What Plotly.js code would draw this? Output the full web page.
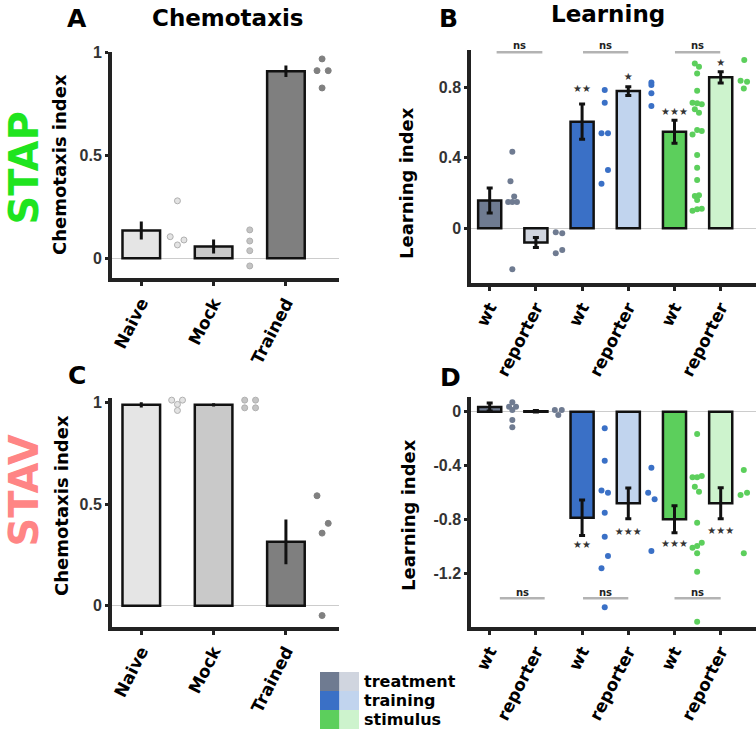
<!DOCTYPE html>
<html>
<head>
<meta charset="utf-8">
<script src="https://cdn.plot.ly/plotly-3.0.1.min.js"></script>
<style>
html,body{margin:0;padding:0;background:#fff;}
#chart{width:756px;height:729px;}
</style>
</head>
<body>
<div id="chart"></div>
<script>
// ---------------- DATA ----------------
const chemoCats = ['Naive', 'Mock', 'Trained'];
const learnCats = ['wt', 'reporter', 'wt', 'reporter', 'wt', 'reporter'];
const legendRows = ['treatment', 'training', 'stimulus'];

// Panel A (STAP chemotaxis)
const stapChemoMean = [0.135, 0.057, 0.908];
const stapChemoErr = [0.044, 0.034, 0.028];
const stapChemoDots = [[0.279, 0.105, 0.089, 0.065], [0.138, 0.084, 0.037, -0.037], [0.968, 0.911, 0.911, 0.827]];
const stapChemoDotsOffset = [[0.50, 0.40, 0.59, 0.50], [0.50, 0.50, 0.50, 0.50], [0.50, 0.43, 0.585, 0.50]];

// Panel C (STAV chemotaxis)
const stavChemoMean = [0.99, 0.99, 0.315];
const stavChemoErr = [0.013, 0.008, 0.11];
const stavChemoDots = [[1.013, 1.013, 0.992, 0.962], [1.013, 1.013, 0.975, 0.975], [0.542, 0.406, 0.358, -0.048]];
const stavChemoDotsOffset = [[0.42, 0.57, 0.50, 0.50], [0.43, 0.58, 0.43, 0.58], [0.43, 0.585, 0.50, 0.50]];

// Panel B (STAP learning)
const stapLearnMean = [0.157, -0.081, 0.605, 0.779, 0.548, 0.857];
const stapLearnErr = [0.071, 0.028, 0.10, 0.025, 0.065, 0.032];
const stapLearnDots = [
  [0.435, 0.267, 0.180, 0.149, 0.149, 0.149, -0.233],
  [-0.023, -0.028, -0.123, -0.142],
  [0.785, 0.713, 0.539, 0.539, 0.331, 0.253],
  [0.828, 0.813, 0.766, 0.694],
  [0.936, 0.917, 0.879, 0.781, 0.713, 0.709, 0.704, 0.675, 0.656, 0.558, 0.552, 0.533, 0.416, 0.344, 0.274, 0.183, 0.187, 0.161, 0.100, 0.108, 0.111],
  [0.955, 0.838, 0.832, 0.794]
];
const stapLearnDotsOffset = [
  [0.49, 0.45, 0.53, 0.40, 0.49, 0.59, 0.49],
  [0.43, 0.57, 0.57, 0.43],
  [0.49, 0.49, 0.42, 0.56, 0.56, 0.42],
  [0.50, 0.50, 0.50, 0.50],
  [0.44, 0.53, 0.49, 0.49, 0.39, 0.49, 0.59, 0.44, 0.53, 0.49, 0.59, 0.39, 0.49, 0.49, 0.49, 0.44, 0.53, 0.49, 0.39, 0.49, 0.59],
  [0.51, 0.43, 0.57, 0.50]
];
const stapStars = ['', '', '★★', '★', '★★★', '★'];
const stapStarsY = [null, null, 0.785, 0.857, 0.658, 0.936];
const stapNsFrom = [0.15, 2.02, 4.01];
const stapNsTo = [1.14, 3.0, 4.99];
const stapNsY = 0.999;
const stapNsTextY = 1.038;

// Panel D (STAV learning)
const stavLearnMean = [0.035, 0.003, -0.787, -0.680, -0.799, -0.680];
const stavLearnErr = [0.03, 0.005, 0.132, 0.114, 0.10, 0.115];
const stavLearnDots = [
  [0.070, 0.037, 0.037, 0.013, -0.062, -0.116],
  [0.013, 0.013, -0.025],
  [-0.124, -0.364, -0.586, -0.601, -0.750, -0.928, -1.071, -1.163, -1.452],
  [-0.416, -0.601, -0.651, -1.034],
  [-0.166, -0.487, -0.487, -0.477, -0.557, -0.594, -0.824, -1.010, -0.997, -0.973, -1.051, -1.188, -1.559],
  [-0.433, -0.618, -0.601, -1.051]
];
const stavLearnDotsOffset = [
  [0.49, 0.42, 0.57, 0.49, 0.49, 0.49],
  [0.41, 0.56, 0.485],
  [0.49, 0.49, 0.42, 0.56, 0.49, 0.49, 0.56, 0.42, 0.49],
  [0.50, 0.43, 0.57, 0.50],
  [0.49, 0.39, 0.49, 0.59, 0.44, 0.53, 0.49, 0.39, 0.49, 0.59, 0.49, 0.49, 0.49],
  [0.50, 0.43, 0.57, 0.50]
];
const stavStars = ['', '', '★★', '★★★', '★★★', '★★★'];
const stavStarsY = [null, null, -0.997, -0.898, -0.985, -0.886];
const stavNsFrom = [0.22, 2.02, 4.0];
const stavNsTo = [1.19, 3.0, 5.0];
const stavNsY = -1.385;
const stavNsTextY = -1.342;

// ---------------- STYLE ----------------
const chemoBarColors = ['#e5e5e5', '#c9c9c9', '#7f7f7f'];
const chemoDotColors = ['#e3e3e3', '#c4c4c4', '#808080'];
const chemoDotLine = ['#b0b0b0', '#b0b0b0', '#808080'];
const learnBarColors = ['#6f7b91', '#d0d5df', '#3a70c6', '#c1d4ee', '#5ccf5c', '#cdf3cd'];
const learnDotColors = ['#6f7b91', '#6f7b91', '#3a70c6', '#3a70c6', '#5ccf5c', '#5ccf5c'];
const legendColors = [['#6f7b91', '#d0d5df'], ['#3a70c6', '#c1d4ee'], ['#5ccf5c', '#cdf3cd']];

const W = 756, H = 729;
const px = x => x / W;
const py = y => 1 - y / H;

// axis ranges
const rangeChemoX = [-0.405, 2.734];
const rangeLearnX = [-0.398, 5.764];
const rangeA = [-0.097, 1.003];
const rangeB = [-0.309, 1.012];
const rangeC = [-0.103, 1.022];
const rangeD = [-1.596, 0.111];

const traces = [];
const annotations = [];

function addChemo(xa, ya, mean, err, dots, offs) {
  const idx = mean.map((_, i) => i);
  traces.push({
    type: 'bar', x: idx, y: mean, width: 0.52, xaxis: xa, yaxis: ya,
    marker: {color: chemoBarColors, line: {color: '#111', width: 2.5}},
    error_y: {type: 'data', array: err, visible: true, color: '#111', thickness: 3, width: 0},
    hoverinfo: 'none', showlegend: false
  });
  dots.forEach((vals, g) => {
    traces.push({
      type: 'scatter', mode: 'markers', xaxis: xa, yaxis: ya,
      x: vals.map((v, k) => g + offs[g][k]), y: vals,
      marker: {size: 6, color: chemoDotColors[g], line: {color: chemoDotLine[g], width: 1}},
      showlegend: false, hoverinfo: 'none', cliponaxis: false
    });
  });
}

function addLearn(xa, ya, yRange, mean, err, dots, offs, stars, starsY, nsFrom, nsTo, nsY, nsTextY) {
  const idx = mean.map((_, i) => i);
  traces.push({
    type: 'bar', x: idx, y: mean, width: 0.5, xaxis: xa, yaxis: ya,
    marker: {color: learnBarColors, line: {color: '#111', width: 2.5}},
    error_y: {type: 'data', array: err, visible: true, color: '#111', thickness: 3, width: 3},
    hoverinfo: 'none', showlegend: false
  });
  dots.forEach((vals, g) => {
    traces.push({
      type: 'scatter', mode: 'markers', xaxis: xa, yaxis: ya,
      x: vals.map((v, k) => g + offs[g][k]), y: vals,
      marker: {size: 6, color: learnDotColors[g]},
      showlegend: false, hoverinfo: 'none', cliponaxis: false
    });
  });
  traces.push({
    type: 'scatter', mode: 'text', xaxis: xa, yaxis: ya,
    x: idx, y: starsY, text: stars, textposition: 'middle center',
    textfont: {family: 'DejaVu Sans', size: 10, color: '#333'},
    showlegend: false, hoverinfo: 'none', cliponaxis: false
  });
  const lx = [], ly = [];
  nsFrom.forEach((a, i) => { lx.push(a, nsTo[i], null); ly.push(nsY, nsY, null); });
  traces.push({
    type: 'scatter', mode: 'lines', xaxis: xa, yaxis: ya, x: lx, y: ly,
    line: {color: '#b3b3b3', width: 2.5}, showlegend: false, hoverinfo: 'none', cliponaxis: false
  });
  // "ns" labels: placed in the y-axis' domain frame so they can sit just above the range
  const yFrac = (nsTextY - yRange[0]) / (yRange[1] - yRange[0]);
  nsFrom.forEach((a, i) => {
    annotations.push({
      text: 'ns', xref: xa, yref: ya + ' domain', x: (a + nsTo[i]) / 2, y: yFrac,
      xanchor: 'center', yanchor: 'middle', showarrow: false,
      font: {family: 'DejaVu Sans', size: 10, color: '#222', weight: 'bold'}
    });
  });
}

addChemo('x', 'y', stapChemoMean, stapChemoErr, stapChemoDots, stapChemoDotsOffset);
addLearn('x2', 'y2', rangeB, stapLearnMean, stapLearnErr, stapLearnDots, stapLearnDotsOffset, stapStars, stapStarsY, stapNsFrom, stapNsTo, stapNsY, stapNsTextY);
addChemo('x3', 'y3', stavChemoMean, stavChemoErr, stavChemoDots, stavChemoDotsOffset);
addLearn('x4', 'y4', rangeD, stavLearnMean, stavLearnErr, stavLearnDots, stavLearnDotsOffset, stavStars, stavStarsY, stavNsFrom, stavNsTo, stavNsY, stavNsTextY);

const xTickFont = {family: 'DejaVu Sans', size: 17, color: '#000', weight: 'bold'};
const yTickFont = {family: 'Liberation Sans', size: 16, color: '#333', weight: 'bold'};

function xAx(domain, range, anchor, tickvals, ticktext) {
  return {
    domain: domain, range: range, anchor: anchor, tickmode: 'array', tickvals: tickvals, ticktext: ticktext,
    showline: true, linecolor: '#222', linewidth: 4, ticks: 'outside', ticklen: 4, tickwidth: 3, tickcolor: '#222',
    tickangle: -63, tickfont: xTickFont, showgrid: false, zeroline: false, fixedrange: true
  };
}
function yAx(domain, range, anchor, tickvals) {
  return {
    domain: domain, range: range, anchor: anchor, tickmode: 'array', tickvals: tickvals,
    ticktext: tickvals.map(v => (v < 0 ? '-' : '') + String(Math.abs(v))),
    showline: true, linecolor: '#222', linewidth: 4, ticks: 'outside', ticklen: 3, tickwidth: 3, tickcolor: '#222',
    tickfont: yTickFont, showgrid: false, zeroline: true, zerolinecolor: '#cccccc', zerolinewidth: 1, fixedrange: true
  };
}

const chemoIdx = chemoCats.map((_, i) => i);
const learnIdx = learnCats.map((_, i) => i);

function ann(text, x, y, size, color, angle) {
  annotations.push({
    text: text, xref: 'paper', yref: 'paper', x: px(x), y: py(y), xanchor: 'center', yanchor: 'middle',
    showarrow: false, textangle: angle || 0, borderpad: 0,
    font: {family: 'DejaVu Sans', size: size, color: color || '#000', weight: 'bold'}
  });
}
ann('A', 77, 18.5, 25);
ann('Chemotaxis', 228, 17.5, 23);
ann('B', 448, 18, 25);
ann('Learning', 608, 14, 23);
ann('C', 77, 376, 25);
ann('D', 450, 377, 25);
ann('STAP', 23.5, 168, 40, '#1fe41f', -90);
ann('STAV', 23.5, 491, 40, '#ff8585', -90);
ann('Chemotaxis index', 60, 165, 18, '#000', -90);
ann('Chemotaxis index', 61, 506, 18, '#000', -90);
ann('Learning index', 406, 183, 18, '#000', -90);
ann('Learning index', 408, 515, 18, '#000', -90);

// legend
const shapes = [];
const legX = [320, 339.5, 359];
const legY = [672, 691, 710, 729];
const legTextY = [681.5, 700.5, 719.5];
legendRows.forEach((name, r) => {
  legendColors[r].forEach((c, k) => {
    shapes.push({type: 'rect', xref: 'paper', yref: 'paper', x0: px(legX[k]), x1: px(legX[k + 1]),
      y0: py(legY[r + 1]), y1: py(legY[r]), fillcolor: c, line: {width: 0}, layer: 'above'});
  });
  annotations.push({
    text: name, xref: 'paper', yref: 'paper', x: px(363), y: py(legTextY[r]),
    xanchor: 'left', yanchor: 'middle', showarrow: false, borderpad: 0,
    font: {family: 'DejaVu Sans', size: 16, color: '#000', weight: 'bold'}
  });
});

const layout = {
  width: W, height: H, margin: {l: 0, r: 0, t: 0, b: 0, pad: 0},
  paper_bgcolor: '#fff', plot_bgcolor: 'rgba(0,0,0,0)', showlegend: false, barmode: 'overlay',
  xaxis: xAx([px(112), px(339)], rangeChemoX, 'y', chemoIdx, chemoCats),
  yaxis: yAx([py(278.3), py(51.7)], rangeA, 'x', [0, 0.5, 1]),
  xaxis2: xAx([px(471.3), 1], rangeLearnX, 'y2', learnIdx, learnCats),
  yaxis2: yAx([py(282.7), py(50)], rangeB, 'x2', [0, 0.4, 0.8]),
  xaxis3: xAx([px(112), px(339)], rangeChemoX, 'y3', chemoIdx, chemoCats),
  yaxis3: yAx([py(626.7), py(398.3)], rangeC, 'x3', [0, 0.5, 1]),
  xaxis4: xAx([px(471.3), 1], rangeLearnX, 'y4', learnIdx, learnCats),
  yaxis4: yAx([py(626.7), py(396.7)], rangeD, 'x4', [-1.2, -0.8, -0.4, 0]),
  annotations: annotations, shapes: shapes
};

Plotly.newPlot('chart', traces, layout, {displayModeBar: false, staticPlot: true});
</script>
</body>
</html>
